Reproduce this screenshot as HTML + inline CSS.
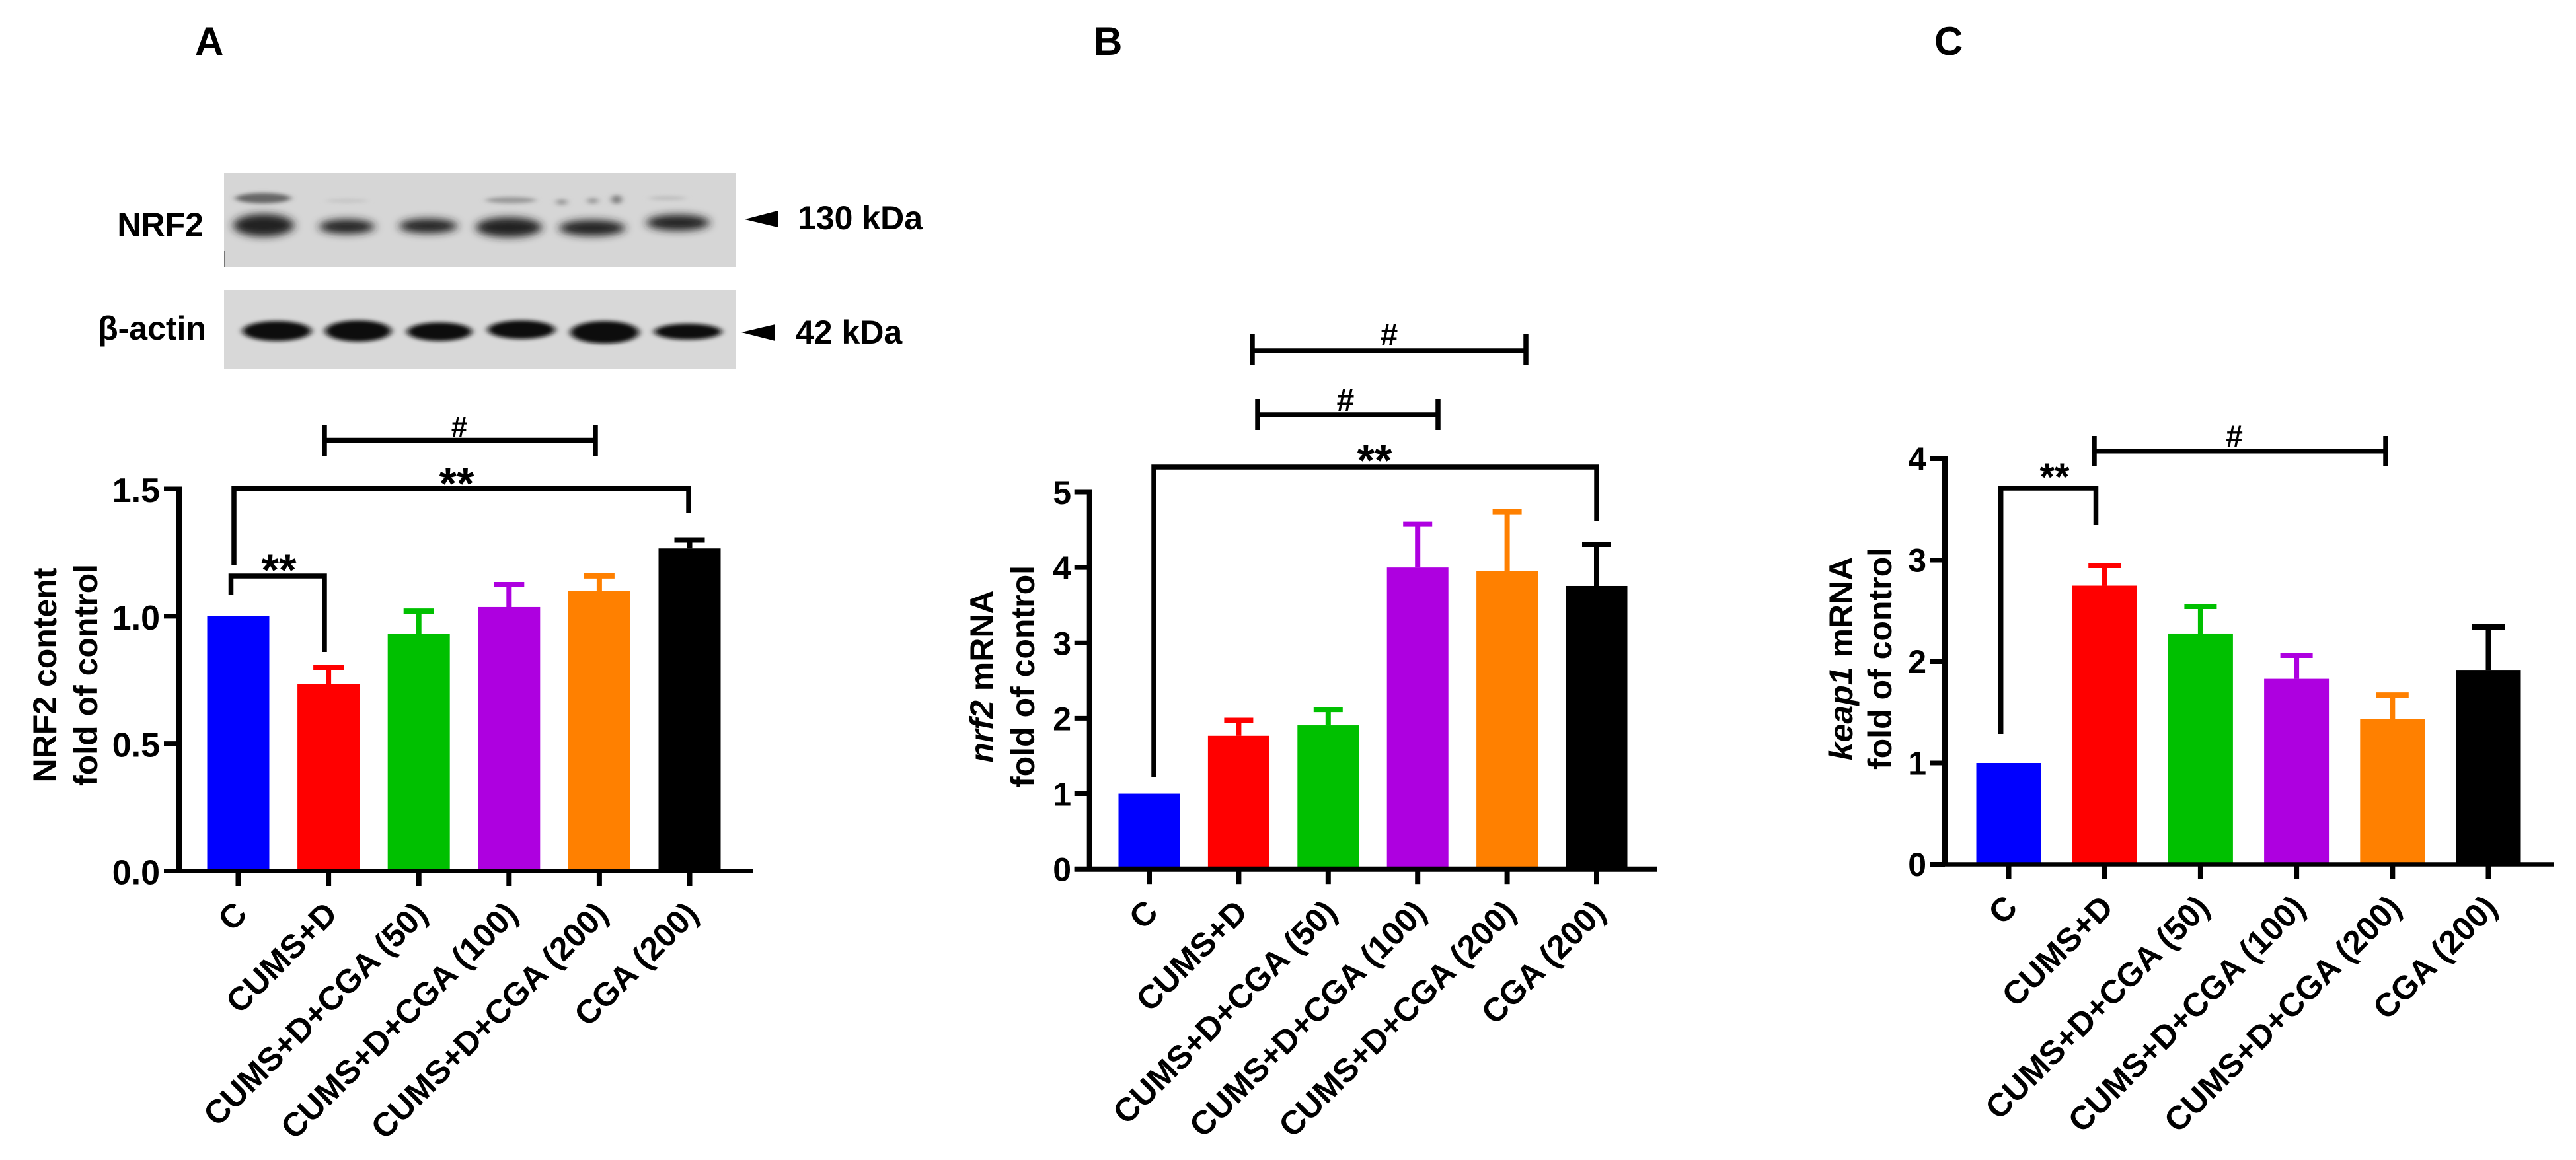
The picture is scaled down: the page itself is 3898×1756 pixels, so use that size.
<!DOCTYPE html>
<html lang="en">
<head>
<meta charset="utf-8">
<title>NRF2, nrf2 and keap1 bar charts</title>
<style>
html,body{margin:0;padding:0;background:#fff;width:3898px;height:1756px;overflow:hidden}
svg{display:block;position:absolute;left:0;top:0}
text{font-family:"Liberation Sans",Arial,sans-serif;font-weight:bold;fill:#000}
</style>
</head>
<body>
<svg id="figure" xmlns="http://www.w3.org/2000/svg" width="3898" height="1756" viewBox="0 0 3898 1756">
  <defs>
    <filter id="b9" x="-30%" y="-80%" width="160%" height="260%"><feGaussianBlur stdDeviation="7 6"/></filter>
    <filter id="b4" x="-30%" y="-80%" width="160%" height="260%"><feGaussianBlur stdDeviation="5 3"/></filter>
  </defs>
  <rect width="3898" height="1756" fill="#fff"/>

  <text x="295" y="83" font-size="60">A</text>
  <text x="1655" y="83" font-size="60">B</text>
  <text x="2927" y="83" font-size="60">C</text>

  <g>
    <rect x="339" y="262" width="775" height="142" fill="#d6d6d6"/>
    <rect x="339" y="380" width="2" height="24" fill="#777"/>
    <g filter="url(#b9)" fill="#222">
      <ellipse cx="399" cy="341" rx="46" ry="17"/>
      <ellipse cx="525" cy="343" rx="42" ry="11"/>
      <ellipse cx="648" cy="342" rx="44" ry="11"/>
      <ellipse cx="770" cy="344" rx="50" ry="15"/>
      <ellipse cx="896" cy="345" rx="50" ry="12"/>
      <ellipse cx="1026" cy="337" rx="48" ry="12"/>
    </g>
    <g filter="url(#b4)" fill="#666">
      <ellipse cx="398" cy="300" rx="42" ry="8"/>
      <ellipse cx="773" cy="303" rx="38" ry="5" fill="#999"/>
      <ellipse cx="850" cy="306" rx="8" ry="5" fill="#999"/>
      <ellipse cx="897" cy="304" rx="8" ry="5" fill="#999"/>
      <ellipse cx="933" cy="302" rx="7" ry="7" fill="#777"/>
      <ellipse cx="1010" cy="300" rx="28" ry="3" fill="#bbb"/>
      <ellipse cx="525" cy="304" rx="32" ry="3" fill="#c4c4c4"/>
    </g>
  </g>

  <g>
    <rect x="339" y="439" width="774" height="120" fill="#d8d8d8"/>
    <g filter="url(#b4)" fill="#0c0c0c">
      <ellipse cx="419" cy="501" rx="52" ry="15"/>
      <ellipse cx="542" cy="501" rx="50" ry="16"/>
      <ellipse cx="665" cy="502" rx="49" ry="14"/>
      <ellipse cx="789" cy="499" rx="51" ry="14"/>
      <ellipse cx="915" cy="503" rx="52" ry="17"/>
      <ellipse cx="1041" cy="502" rx="51" ry="12"/>
    </g>
  </g>

  <text x="308" y="357" font-size="50" text-anchor="end">NRF2</text>
  <text x="312" y="514" font-size="50" text-anchor="end">β-actin</text>
  <polygon points="1127,332 1177,319 1177,344" fill="#000"/>
  <polygon points="1122,503 1173,491 1173,516" fill="#000"/>
  <text x="1207" y="347" font-size="50">130 kDa</text>
  <text x="1204" y="520" font-size="50">42 kDa</text>

  <g id="chart-a"></g>
  <g id="chart-b"></g>
  <g id="chart-c"></g>

  <g>
    <text transform="translate(85,1022) rotate(-90)" font-size="50" text-anchor="middle">NRF2 content</text>
    <text transform="translate(147,1022) rotate(-90)" font-size="50" text-anchor="middle">fold of control</text>
  </g>
  <g>
    <text transform="translate(1503,1024) rotate(-90)" font-size="50" text-anchor="middle"><tspan font-style="italic">nrf2</tspan> mRNA</text>
    <text transform="translate(1565,1024) rotate(-90)" font-size="50" text-anchor="middle">fold of control</text>
  </g>
  <g>
    <text transform="translate(2803,997) rotate(-90)" font-size="50" text-anchor="middle"><tspan font-style="italic">keap1</tspan> mRNA</text>
    <text transform="translate(2862,997) rotate(-90)" font-size="50" text-anchor="middle">fold of control</text>
  </g>

  <g fill="none" stroke="#000" stroke-width="7.5">
    <path d="M491 643V690M491 666.5H901M901 643V690"/>
    <path d="M354 855V739.5H1042V776"/>
    <path d="M349.5 900V872H491V987"/>
  </g>
  <text x="695" y="661" font-size="44" text-anchor="middle">#</text>
  <text x="691" y="755" font-size="68" text-anchor="middle">**</text>
  <text x="422" y="886" font-size="68" text-anchor="middle">**</text>

  <g fill="none" stroke="#000" stroke-width="7.5">
    <path d="M1895 506V553M1895 531H2309M2309 506V553"/>
    <path d="M1903 604V651M1903 628H2176M2176 604V651"/>
    <path d="M1746 1176V707H2416V789"/>
  </g>
  <text x="2102" y="523" font-size="48" text-anchor="middle">#</text>
  <text x="2036" y="622" font-size="48" text-anchor="middle">#</text>
  <text x="2080" y="720" font-size="68" text-anchor="middle">**</text>

  <g fill="none" stroke="#000" stroke-width="7.5">
    <path d="M3169 660V706M3169 682.7H3610M3610 660V706"/>
    <path d="M3027.7 1111V739H3171.5V795"/>
  </g>
  <text x="3381" y="676" font-size="46" text-anchor="middle">#</text>
  <text x="3109" y="742" font-size="58" text-anchor="middle">**</text>
</svg>

<script>
const categories = ["C", "CUMS+D", "CUMS+D+CGA (50)", "CUMS+D+CGA (100)", "CUMS+D+CGA (200)", "CGA (200)"];
const barColors = ["#0000ff", "#ff0000", "#00c000", "#ae00e0", "#ff8000", "#000000"];

const aValues = [1.0, 0.733, 0.932, 1.036, 1.10, 1.266];
const aErrorTops = [1.0, 0.80, 1.02, 1.124, 1.158, 1.299];
const aTicks = [0, 0.5, 1.0, 1.5];
const aTickLabels = ["0.0", "0.5", "1.0", "1.5"];

const bValues = [1.0, 1.769, 1.907, 4.0, 3.953, 3.756];
const bErrorTops = [1.0, 1.973, 2.117, 4.574, 4.74, 4.308];
const bTicks = [0, 1, 2, 3, 4, 5];
const bTickLabels = ["0", "1", "2", "3", "4", "5"];

const cValues = [1.0, 2.749, 2.277, 1.83, 1.436, 1.918];
const cErrorTops = [1.0, 2.948, 2.544, 2.062, 1.67, 2.342];
const cTicks = [0, 1, 2, 3, 4];
const cTickLabels = ["0", "1", "2", "3", "4"];

const NS = "http://www.w3.org/2000/svg";

function make(parent, tag, attrs) {
  const el = document.createElementNS(NS, tag);
  for (const k in attrs) el.setAttribute(k, attrs[k]);
  parent.appendChild(el);
  return el;
}

function drawChart(rootId, values, errorTops, ticks, tickLabels, geo) {
  const root = document.getElementById(rootId);
  const yScale = function (v) { return geo.y0 - (v / geo.yMax) * (geo.y0 - geo.yTop); };
  const xScale = function (i) { return geo.x0 + i * geo.pitch; };

  values.forEach(function (v, i) {
    const cx = xScale(i);
    const top = yScale(v);
    const errTop = yScale(errorTops[i]);
    const color = barColors[i];
    if (errorTops[i] > v) {
      const stem = make(root, "line", { x1: cx, x2: cx, y1: top, y2: errTop, stroke: color, "stroke-width": 8 });
      
      
      const cap = make(root, "line", { x1: cx - geo.cap / 2, x2: cx + geo.cap / 2, y1: errTop, y2: errTop, stroke: color, "stroke-width": 8 });
      
      
    }
    const bar = make(root, "rect", { x: cx - geo.barWidth / 2, y: top, width: geo.barWidth, height: geo.y0 - top, fill: color });
    
    

    const tick = make(root, "line", { x1: cx, x2: cx, y1: geo.y0, y2: geo.y0 + 22.5, stroke: "#000", "stroke-width": 8 });
    
    

    const lab = make(root, "text", {
      transform: "translate(" + (cx + 16) + "," + (geo.y0 + 68) + ") rotate(-45)",
      "font-size": 50,
      "text-anchor": "end"
    });
    
    
    lab.textContent = categories[i];
  });

  const yAxis = make(root, "line", { x1: geo.axisX, x2: geo.axisX, y1: geo.yTop - 3.5, y2: geo.y0 + 3, stroke: "#000", "stroke-width": 8 });
  
  
  const xAxis = make(root, "line", { x1: geo.axisX - 23, x2: geo.axisEnd, y1: geo.y0, y2: geo.y0, stroke: "#000", "stroke-width": geo.axisW });
  
  

  ticks.forEach(function (t, i) {
    const y = yScale(t);
    const tick = make(root, "line", { x1: geo.axisX - 23, x2: geo.axisX, y1: y, y2: y, stroke: "#000", "stroke-width": 7 });
    
    
    const lab = make(root, "text", { x: geo.labelRight, y: y + geo.tickDy, "font-size": geo.tickFont, "text-anchor": "end" });
    
    
    lab.textContent = tickLabels[i];
  });
}

drawChart("chart-a", aValues, aErrorTops, aTicks, aTickLabels,
  { x0: 360.5, pitch: 136.6, barWidth: 94, cap: 46, y0: 1318.5, yTop: 740, yMax: 1.5, axisX: 271, axisEnd: 1140, axisW: 7, labelRight: 242, tickFont: 52, tickDy: 20 });
drawChart("chart-b", bValues, bErrorTops, bTicks, bTickLabels,
  { x0: 1739, pitch: 135.4, barWidth: 93, cap: 44, y0: 1315.7, yTop: 745, yMax: 5, axisX: 1648.7, axisEnd: 2508, axisW: 8, labelRight: 1621, tickFont: 50, tickDy: 18 });
drawChart("chart-c", cValues, cErrorTops, cTicks, cTickLabels,
  { x0: 3039.5, pitch: 145.2, barWidth: 98, cap: 49, y0: 1308.5, yTop: 694.5, yMax: 4, axisX: 2943, axisEnd: 3864, axisW: 6.5, labelRight: 2915, tickFont: 50, tickDy: 17.5 });
</script>
</body>
</html>
